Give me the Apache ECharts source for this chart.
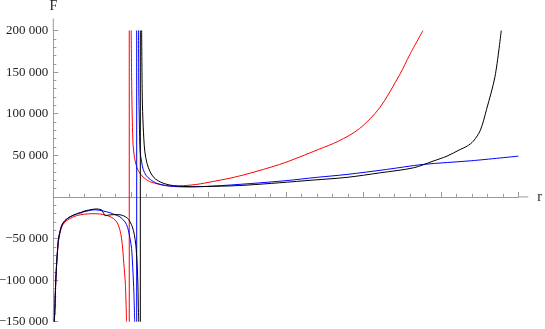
<!DOCTYPE html>
<html>
<head>
<meta charset="utf-8">
<script src="https://cdn.jsdelivr.net/npm/echarts@6/dist/echarts.min.js"></script>
<style>
  html, body { margin: 0; padding: 0; background: #fff; }
  #chart { width: 545px; height: 329px; }
</style>
</head>
<body>
<div id="chart"></div>
<script>
// r values and F values, one branch at a time
const redLeftR = [0.013, 0.02, 0.03, 0.04, 0.05, 0.065, 0.085, 0.11, 0.15, 0.215, 0.3, 0.4, 0.5, 0.6, 0.68, 0.75, 0.8, 0.84, 0.87, 0.89, 0.91, 0.93, 0.945];
const redLeftF = [-150000, -135000, -107000, -87000, -72000, -55000, -44000, -36000, -30000, -26000, -22500, -20800, -20200, -20500, -22000, -24500, -28000, -34000, -44000, -57000, -80000, -105000, -150000];
const redRightR = [1.005, 1.012, 1.02, 1.03, 1.05, 1.08, 1.12, 1.17, 1.24, 1.31, 1.42, 1.55, 1.68, 1.85, 2.06, 2.28, 2.5, 2.92, 3.18, 3.42, 3.68, 3.95, 4.21, 4.47, 4.6, 4.77];
const redRightF = [200000, 130000, 90000, 62000, 46000, 35000, 28000, 23000, 18500, 16500, 14000, 13000, 13500, 15000, 18500, 22500, 27500, 39000, 48000, 57000, 67000, 82000, 107000, 147000, 171000, 200000];

const blueLeftR = [0.013, 0.02, 0.03, 0.04, 0.05, 0.065, 0.085, 0.11, 0.15, 0.215, 0.3, 0.39, 0.54, 0.645, 0.73, 0.8, 0.86, 0.925, 0.96, 0.99, 1.01, 1.025, 1.04, 1.05];
const blueLeftF = [-150000, -135000, -105000, -85000, -70000, -52000, -42000, -34000, -28500, -24000, -20500, -18000, -15500, -17000, -19000, -21500, -24000, -30000, -37000, -50000, -62000, -85000, -115000, -150000];
const blueRightR = [1.1, 1.103, 1.11, 1.12, 1.14, 1.16, 1.2, 1.25, 1.34, 1.5, 1.72, 2.06, 2.54, 3.0, 3.4, 3.79, 4.3, 4.77, 5.4, 6.0];
const blueRightF = [200000, 130000, 90000, 55000, 42000, 33000, 25500, 21000, 16200, 13000, 12000, 13000, 16000, 19500, 23500, 27000, 33000, 39000, 43500, 49000];

const blackLeftR = [0.013, 0.02, 0.03, 0.04, 0.05, 0.065, 0.085, 0.11, 0.15, 0.215, 0.3, 0.35, 0.36, 0.37, 0.45, 0.55, 0.62, 0.645, 0.67, 0.7, 0.78, 0.86, 0.95, 0.99, 1.02, 1.045, 1.065, 1.08, 1.09, 1.097, 1.102];
const blackLeftF = [-150000, -135000, -105000, -85000, -70000, -52000, -42000, -34000, -28500, -24000, -20500, -19000, -19800, -18000, -16000, -14500, -15500, -19000, -22500, -22000, -21300, -21500, -25000, -30000, -36000, -45000, -58000, -78000, -100000, -130000, -150000];
const blackRightR = [1.14, 1.148, 1.16, 1.18, 1.21, 1.25, 1.3, 1.38, 1.45, 1.55, 1.7, 1.85, 2.06, 2.28, 2.5, 2.92, 3.35, 3.79, 4.22, 4.65, 4.9, 5.08, 5.25, 5.34, 5.42, 5.51, 5.59, 5.7, 5.78];
const blackRightF = [200000, 120000, 85000, 55000, 40000, 30000, 23000, 18000, 15500, 13500, 12500, 12300, 12700, 13200, 14200, 17000, 20200, 23500, 29000, 35000, 43000, 49000, 57000, 61000, 67000, 80000, 105000, 145000, 200000];

// where each curve jumps across its pole
const poleR = { red: 0.98, blue: 1.076, black: 1.123 };

const xTicks = [1, 2, 3, 4, 5, 6];
const yTicks = [-150000, -100000, -50000, 50000, 100000, 150000, 200000];
const yMin = -150000, yMax = 200000;

function pairs(rs, fs) {
  return rs.map((r, i) => [r, fs[i]]);
}

function fmtF(v) {
  if (v === 0) return '';
  let s = String(Math.abs(v)).replace(/\B(?=(\d{3})+(?!\d))/g, ' ');
  return (v < 0 ? '\u2212' : '') + s;
}

function branch(data, color, smooth) {
  return {
    type: 'line',
    data: data,
    showSymbol: false,
    clip: true,
    smooth: smooth,
    lineStyle: { color: color, width: 1 },
    silent: true
  };
}

let series = [];
[
  ['red', '#ff0000', redLeftR, redLeftF, redRightR, redRightF],
  ['blue', '#0000ff', blueLeftR, blueLeftF, blueRightR, blueRightF],
  ['black', '#000000', blackLeftR, blackLeftF, blackRightR, blackRightF]
].forEach(function (c) {
  series.push(branch(pairs(c[2], c[3]), c[1], 0.3));
  series.push(branch([[poleR[c[0]], yMin], [poleR[c[0]], yMax]], c[1], false));
  series.push(branch(pairs(c[4], c[5]), c[1], 0.3));
});

const axisColor = '#999';
const font = '"Liberation Serif", "Times New Roman", serif';

let myChart = echarts.init(document.getElementById('chart'), null, { renderer: 'canvas' });
let option = {
  animation: false,
  backgroundColor: '#fff',
  grid: { left: 53.3, right: 26.7, top: 30.5, bottom: 7.3, containLabel: false, outerBoundsMode: 'none' },
  xAxis: {
    type: 'value',
    min: 0,
    max: 6,
    interval: 1,
    name: 'r',
    nameLocation: 'end',
    nameGap: 19,
    nameTextStyle: { fontFamily: font, fontSize: 14, color: '#222' },
    axisLine: {
      onZero: true,
      lineStyle: { color: axisColor, width: 1 },
      symbol: ['none', 'rect'],
      symbolSize: [1, 10],
      symbolOffset: [0, 5]
    },
    axisTick: { inside: true, length: 5, lineStyle: { color: axisColor } },
    minorTick: { show: true, splitNumber: 5, length: 3, lineStyle: { color: axisColor } },
    splitLine: { show: false },
    axisLabel: {
      margin: 6,
      fontFamily: font,
      fontSize: 13,
      color: '#222',
      formatter: function (v) { return xTicks.indexOf(v) >= 0 ? String(v) : ''; }
    }
  },
  yAxis: {
    type: 'value',
    min: yMin,
    max: yMax,
    interval: 50000,
    name: 'F',
    nameLocation: 'end',
    nameGap: 17,
    nameTextStyle: { fontFamily: font, fontSize: 14, color: '#222', align: 'center' },
    axisLine: {
      show: true,
      onZero: true,
      lineStyle: { color: axisColor, width: 1 },
      symbol: ['rect', 'rect'],
      symbolSize: [1, 12],
      symbolOffset: [6, 6]
    },
    axisTick: { show: true, inside: true, length: 5, lineStyle: { color: axisColor } },
    minorTick: { show: true, splitNumber: 5, length: 3, lineStyle: { color: axisColor } },
    splitLine: { show: false },
    axisLabel: {
      margin: 5,
      fontFamily: font,
      fontSize: 13,
      color: '#222',
      formatter: function (v) { return yTicks.indexOf(v) >= 0 ? fmtF(v) : ''; }
    }
  },
  series: series
};
myChart.setOption(option);
</script>
</body>
</html>
